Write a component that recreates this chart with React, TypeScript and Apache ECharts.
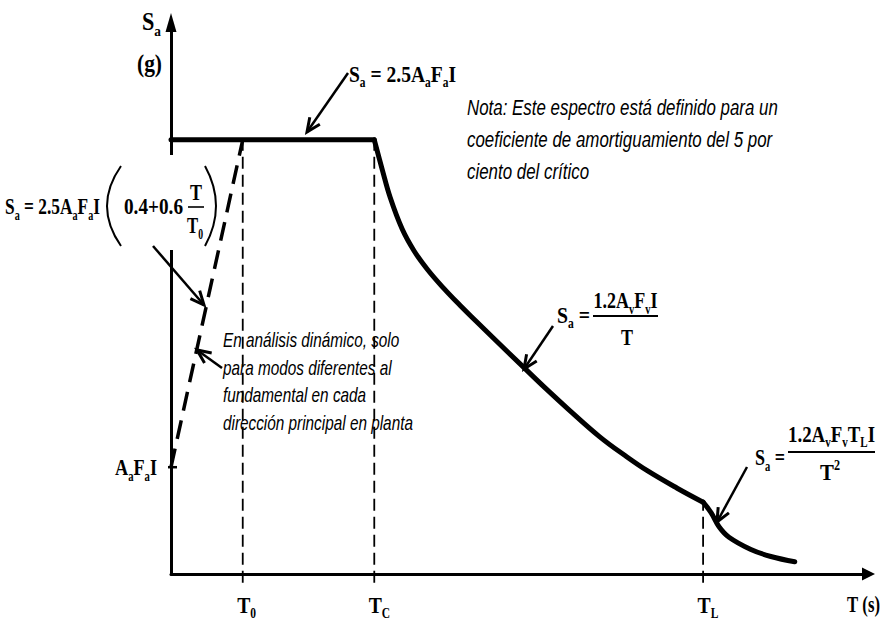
import React, { useEffect, useRef } from 'react';
import * as echarts from 'echarts';

// ---------- data (schematic design spectrum, T in s, Sa in g) ----------
const T0 = 0.36;
const TC = 1.02;
const TL = 2.67;
const SA_PLATEAU = 2.48;
const SA_ZERO = 0.61; // Aa Fa I
const X_MAX = 3.5;
const Y_MAX = 3.15;

const rampT = [0, T0];
const rampSa = [SA_ZERO, SA_PLATEAU];
const plateauT = [0, TC];
const plateauSa = [SA_PLATEAU, SA_PLATEAU];
const descT = [1.02, 1.06, 1.1, 1.16, 1.22, 1.29, 1.37, 1.45, 1.53, 1.62, 1.77, 1.88, 1.99, 2.15, 2.28, 2.39, 2.54, 2.67];
const descSa = [2.48, 2.31, 2.15, 1.97, 1.845, 1.735, 1.63, 1.535, 1.445, 1.345, 1.18, 1.06, 0.945, 0.785, 0.675, 0.59, 0.49, 0.41];
const tailT = [2.67, 2.71, 2.75, 2.8, 2.91, 3.01, 3.13];
const tailSa = [0.41, 0.35, 0.27, 0.21, 0.14, 0.1, 0.07];
const guideT = [T0, TC, TL];
const guideTopSa = [SA_PLATEAU, SA_PLATEAU, 0.41];
const guideBottomSa = -0.05;
const tickNames: [string, string][] = [['T', '0'], ['T', 'C'], ['T', 'L']];

const notaLines = [
  'Nota: Este espectro está definido para un',
  'coeficiente de amortiguamiento del 5 por',
  'ciento del crítico',
];
const dynLines = [
  'En análisis dinámico, solo',
  'para modos diferentes al',
  'fundamental en cada',
  'dirección principal en planta',
];

// ---------- helpers ----------
const SERIF = '"Liberation Serif", "Times New Roman", Times, serif';
const SANS = '"Liberation Sans", Arial, Helvetica, sans-serif';
let mctx: CanvasRenderingContext2D | null = null;
function textWidth(t: string, font: string): number {
  if (!mctx) mctx = document.createElement('canvas').getContext('2d');
  mctx!.font = font;
  return mctx!.measureText(t).width;
}

function txt(t: string, x: number, baseline: number, size: number, family: string, weight: string, fstyle: string) {
  const off = family === SERIF ? 0.3375 : 0.3465;
  return {
    type: 'text',
    x,
    y: baseline - off * size,
    z: 12,
    style: {
      text: t,
      fontSize: size,
      fontFamily: family,
      fontWeight: weight,
      fontStyle: fstyle,
      fill: '#000',
      align: 'left',
      verticalAlign: 'middle',
      textAlign: 'left',
      textVerticalAlign: 'middle',
    },
  };
}

type Part = [string, 'm' | 's' | 'p'];

function formulaRow(parts: Part[], size: number) {
  const children: any[] = [];
  let x = 0;
  let firstW = 0;
  parts.forEach(([t, k], i) => {
    const s = k === 'm' ? size : Math.round(size * 0.6);
    const base = k === 's' ? size * 0.24 : k === 'p' ? -size * 0.4 : 0;
    const w = textWidth(t, `bold ${s}px ${SERIF}`);
    children.push(txt(t, x, base, s, SERIF, 'bold', 'normal'));
    if (i === 0) firstW = w;
    x += w;
  });
  return { children, width: x, firstW };
}

function formulaFit(parts: Part[], size: number, left: number, baseline: number, target: number) {
  const r = formulaRow(parts, size);
  return { type: 'group', x: left, y: baseline, scaleX: target / r.width, z: 12, children: r.children };
}
function formulaCenter(parts: Part[], size: number, cx: number, baseline: number, target: number) {
  const r = formulaRow(parts, size);
  const sx = target / r.width;
  return { type: 'group', x: cx - (r.width * sx) / 2, y: baseline, scaleX: sx, z: 12, children: r.children };
}

function textBlock(lines: string[], size: number, left: number, baselines: number[], fitIndex: number, target: number) {
  const font = `italic ${size}px ${SANS}`;
  const sx = target / textWidth(lines[fitIndex], font);
  return {
    type: 'group',
    x: left,
    y: 0,
    scaleX: sx,
    z: 12,
    children: lines.map((l, i) => txt(l, 0, baselines[i], size, SANS, 'normal', 'italic')),
  };
}

function arrow(x1: number, y1: number, x2: number, y2: number) {
  const a = Math.atan2(y2 - y1, x2 - x1);
  const L = 15;
  const h = 0.42;
  const p1 = [x2 - L * Math.cos(a - h), y2 - L * Math.sin(a - h)];
  const p2 = [x2 - L * Math.cos(a + h), y2 - L * Math.sin(a + h)];
  return [
    { type: 'line', z: 12, shape: { x1, y1, x2, y2 }, style: { stroke: '#000', lineWidth: 2.5 } },
    {
      type: 'polyline',
      z: 12,
      shape: { points: [p1, [x2, y2], p2] },
      style: { stroke: '#000', lineWidth: 3, fill: 'none', lineJoin: 'miter' },
    },
  ];
}

function hline(x1: number, x2: number, y: number, w = 2) {
  return { type: 'line', z: 12, shape: { x1, y1: y, x2, y2: y }, style: { stroke: '#000', lineWidth: w } };
}

const FS = 24;

function buildGraphics(px: (t: number, s: number) => number[]) {
  const els: any[] = [];
  // white box behind the left formula (hides the axis there)
  els.push({ type: 'rect', z: 11, shape: { x: 0, y: 155, width: 215, height: 95 }, style: { fill: '#fff' } });

  // axis names
  els.push(formulaFit([['S', 'm'], ['a', 's']], 25, 142, 30, 19));
  els.push(formulaFit([['(g)', 'm']], 25, 137, 72, 25));
  els.push(formulaFit([['T', 'm'], [' (s)', 'm']], FS, 847, 612, 33));

  // tick labels T0, TC, TL
  guideT.forEach((t, i) => {
    const p = px(t, 0);
    const [a, b] = tickNames[i];
    const r = formulaRow([[a, 'm'], [b, 's']], FS);
    const sx = 0.82;
    els.push({ type: 'group', x: p[0] + 1 - (r.firstW * sx) / 2, y: 613, scaleX: sx, z: 12, children: r.children });
  });

  // Aa Fa I tick + label
  const pz = px(0, SA_ZERO);
  els.push({ type: 'line', z: 12, shape: { x1: pz[0] - 3, y1: pz[1], x2: pz[0] + 6, y2: pz[1] }, style: { stroke: '#000', lineWidth: 2.5 } });
  els.push(formulaFit([['A', 'm'], ['a', 's'], ['F', 'm'], ['a', 's'], ['I', 'm']], FS, 115, 475, 42));

  // top formula  Sa = 2.5 Aa Fa I
  els.push(formulaFit([['S', 'm'], ['a', 's'], [' = 2.5A', 'm'], ['a', 's'], ['F', 'm'], ['a', 's'], ['I', 'm']], FS, 349, 82, 107));
  els.push(...arrow(348, 73, 307, 132));

  // left formula Sa = 2.5AaFaI (0.4 + 0.6 T/T0)
  els.push(formulaFit([['S', 'm'], ['a', 's'], [' = 2.5A', 'm'], ['a', 's'], ['F', 'm'], ['a', 's'], ['I', 'm']], FS, 5, 214, 95));
  els.push({ type: 'bezierCurve', z: 12, shape: { x1: 121, y1: 166, cpx1: 93, cpy1: 206, x2: 121, y2: 246 }, style: { stroke: '#000', lineWidth: 2, fill: 'none' } });
  els.push(formulaFit([['0.4+0.6', 'm']], FS, 124, 214, 59));
  els.push(formulaCenter([['T', 'm']], FS, 196, 200, 12));
  els.push(hline(188, 204, 207, 1.6));
  els.push(formulaCenter([['T', 'm'], ['0', 's']], FS, 195, 233, 16));
  els.push({ type: 'bezierCurve', z: 12, shape: { x1: 205, y1: 166, cpx1: 227, cpy1: 206, x2: 205, y2: 246 }, style: { stroke: '#000', lineWidth: 2, fill: 'none' } });
  els.push(...arrow(153, 246, 204, 305));

  // dynamic analysis note
  els.push(textBlock(dynLines, 21, 223, [347, 375, 402, 430], 3, 190));
  els.push(...arrow(222, 368, 197, 350));

  // nota
  els.push(textBlock(notaLines, 22, 467, [115, 147, 179], 0, 311));

  // Sa = 1.2 Av Fv I / T
  els.push(formulaFit([['S', 'm'], ['a', 's'], [' =', 'm']], FS, 557, 323, 33));
  els.push(hline(593, 658, 316, 2));
  els.push(formulaCenter([['1.2A', 'm'], ['v', 's'], ['F', 'm'], ['v', 's'], ['I', 'm']], FS, 625.5, 308, 64));
  els.push(formulaCenter([['T', 'm']], FS, 627, 345, 12));
  els.push(...arrow(553, 326, 524, 369));

  // Sa = 1.2 Av Fv TL I / T^2
  els.push(formulaFit([['S', 'm'], ['a', 's'], [' =', 'm']], FS, 755, 465, 30));
  els.push(hline(788, 875, 452, 2));
  els.push(formulaCenter([['1.2A', 'm'], ['v', 's'], ['F', 'm'], ['v', 's'], ['T', 'm'], ['L', 's'], ['I', 'm']], FS, 831.5, 442, 87));
  els.push(formulaCenter([['T', 'm'], ['2', 'p']], FS, 830, 480, 20));
  els.push(...arrow(747, 467, 717, 522));

  return els;
}

function pairs(xs: number[], ys: number[]) {
  return xs.map((x, i) => [x, ys[i]]);
}

export default function App() {
  const ref = useRef<HTMLDivElement>(null);
  useEffect(() => {
    const chart = echarts.init(ref.current!, null, { renderer: 'svg' });
    const axisCommon = {
      type: 'value',
      min: 0,
      axisTick: { show: false },
      axisLabel: { show: false },
      splitLine: { show: false },
    };
    const solid = { color: '#000', width: 5, cap: 'round', join: 'round' };
    const guideSeries = guideT.map((t, i) => ({
      type: 'line',
      name: 'guide' + i,
      data: [[t, guideBottomSa], [t, guideTopSa[i]]],
      showSymbol: false,
      clip: false,
      z: 3,
      lineStyle: { color: '#000', width: 1.8, type: [12, 6] },
    }));
    chart.setOption({
      animation: false,
      backgroundColor: '#fff',
      grid: { left: 171, right: 15.5, top: 22.5, bottom: 51 },
      xAxis: {
        ...axisCommon,
        max: X_MAX,
        axisLine: { show: true, onZero: false, symbol: ['none', 'triangle'], symbolSize: [13, 13], lineStyle: { color: '#000', width: 3 } },
      },
      yAxis: {
        ...axisCommon,
        max: Y_MAX,
        axisLine: { show: true, onZero: false, symbol: ['none', 'triangle'], symbolSize: [11, 19], lineStyle: { color: '#000', width: 3 } },
      },
      series: [
        ...guideSeries,
        {
          type: 'line',
          name: 'rampa',
          data: pairs(rampT, rampSa),
          showSymbol: false,
          z: 4,
          lineStyle: { color: '#000', width: 3.5, type: [19, 10] },
        },
        { type: 'line', name: 'meseta', data: pairs(plateauT, plateauSa), showSymbol: false, z: 5, lineStyle: solid },
        { type: 'line', name: 'descenso', data: pairs(descT, descSa), smooth: 0.4, showSymbol: false, z: 5, lineStyle: solid },
        { type: 'line', name: 'cola', data: pairs(tailT, tailSa), smooth: 0.4, showSymbol: false, z: 5, lineStyle: solid },
      ],
    });
    const px = (t: number, s: number) => chart.convertToPixel({ gridIndex: 0 }, [t, s]) as number[];
    chart.setOption({ graphic: { elements: buildGraphics(px) } });
    return () => chart.dispose();
  }, []);
  return <div ref={ref} style={{ position: 'absolute', left: 0, top: 0, width: 884, height: 625 }} />;
}
